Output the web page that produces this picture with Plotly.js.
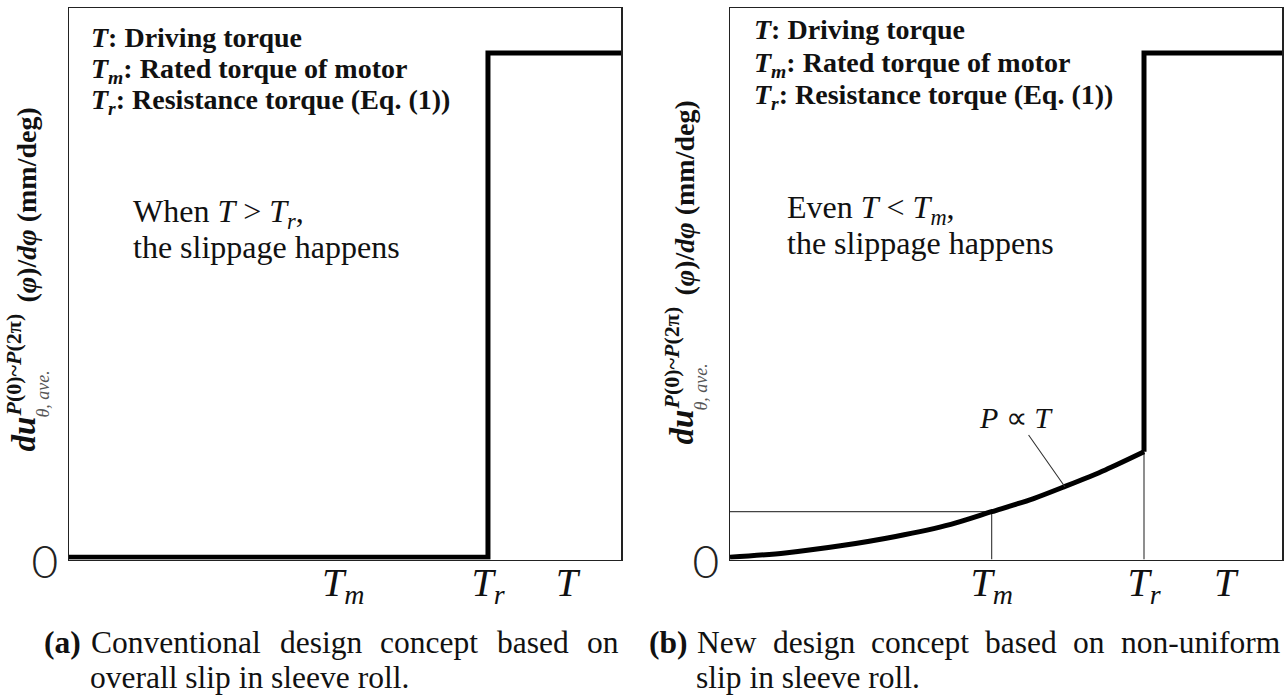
<!DOCTYPE html>
<html>
<head>
<meta charset="utf-8">
<script src="https://cdn.plot.ly/plotly-3.0.1.min.js"></script>
<style>
  html, body { margin: 0; padding: 0; background: #fff; }
  #fig { width: 1287px; height: 695px; }
</style>
</head>
<body>
<div id="fig"></div>
<script>
// ---- data -----------------------------------------------------------
// (a) conventional concept: no slip until T reaches Tr, then full slip
const convT  = [0, 0.759, 0.759, 1.0];
const convDu = [0, 0, 0.918, 0.918];

// (b) new concept: slip grows with T (P ∝ T) up to Tr, then full slip
const newCurveT  = [0, 0.1, 0.2, 0.3, 0.4, 0.474, 0.55, 0.607, 0.68, 0.75];
const newCurveDu = [0, 0.008, 0.021, 0.038, 0.06, 0.083, 0.107, 0.129, 0.159, 0.192];
const newStepT   = [0.75, 0.75, 1.0];
const newStepDu  = [0.192, 0.918, 0.918];

// characteristic torques on each axis
const torqueNamesA = ['<i>T</i><sub><i>m</i></sub>', '<i>T</i><sub><i>r</i></sub>', '<i>T</i>'];
const torqueValsA  = [0.497, 0.759, 0.902];
const torqueNamesB = ['<i>T</i><sub><i>m</i></sub>', '<i>T</i><sub><i>r</i></sub>', '<i>T</i>'];
const torqueValsB  = [0.474, 0.75, 0.897];

// operating point at the rated torque (panel b guide lines)
const ratedT  = 0.474;
const ratedDu = 0.083;
const resistT = 0.75;
const resistDu = 0.192;

// text
const legendLines = [
  '<b><i>T</i>: Driving torque</b>',
  '<b><i>T</i><sub><i>m</i></sub>: Rated torque of motor</b>',
  '<b><i>T</i><sub><i>r</i></sub>: Resistance torque (Eq. (1))</b>'
];
const noteA = ['When <i>T</i> &gt; <i>T</i><sub><i>r</i></sub>,', 'the slippage happens'];
const noteB = ['Even <i>T</i> &lt; <i>T</i><sub><i>m</i></sub>,', 'the slippage happens'];
const curveLabel = '<i>P</i> ∝ <i>T</i>';
const captionLabels = ['(a)', '(b)'];
const captionFirstA = ['Conventional', 'design', 'concept', 'based', 'on'];
const captionSecondA = 'overall slip in sleeve roll.';
const captionFirstB = ['New', 'design', 'concept', 'based', 'on', 'non-uniform'];
const captionSecondB = 'slip in sleeve roll.';

// ---- layout helpers ---------------------------------------------------
const W = 1287, H = 695;
const SERIF = 'Liberation Serif, Times New Roman, serif';
const px = v => v / W;
const py = v => 1 - v / H;

const ctx = document.createElement('canvas').getContext('2d');
function measure(str, size, weight) {
  ctx.font = (weight || 'normal') + ' ' + size + 'px Liberation Serif';
  return ctx.measureText(str).width;
}

// horizontal text, positioned by its left edge and baseline (pixels)
function textAt(text, left, baseline, size) {
  return {
    xref: 'paper', yref: 'paper', x: px(left), y: py(baseline - 0.891 * size),
    xanchor: 'left', yanchor: 'top', showarrow: false, text: text, borderpad: 0,
    font: { family: SERIF, size: size, color: '#111' }
  };
}

// words spread to fill [x0, x1]
function justified(words, x0, x1, baseline, size) {
  const widths = words.map(w => measure(w, size));
  const total = widths.reduce((a, b) => a + b, 0);
  const gap = (x1 - x0 - total) / (words.length - 1);
  let x = x0;
  return words.map((w, i) => {
    const a = textAt(w, x, baseline, size);
    x += widths[i] + gap;
    return a;
  });
}

// vertical text read bottom-to-top, positioned by centre x and bottom y
function upright(text, cx, bottom, size, color) {
  return {
    xref: 'paper', yref: 'paper', x: px(cx), y: py(bottom),
    xanchor: 'center', yanchor: 'bottom', textangle: -90, showarrow: false, borderpad: 0,
    text: text, font: { family: SERIF, size: size, color: color || '#111' }
  };
}

function yTitle(dx, dy) {
  return [
    upright('<b><i>du</i></b>', 23 + dx, 453 + dy, 33),
    upright('<b><i>P</i>(0)~<i>P</i>(2π)</b>', 13 + dx, 418 + dy, 22),
    upright('<i>θ, ave.</i>', 42 + dx, 419 + dy, 18, '#555'),
    upright('<b>(<i>φ</i>)/<i>dφ</i> (mm/deg)</b>', 26 + dx, 304 + dy, 28)
  ];
}

// ---- traces -------------------------------------------------------------
const thick = { color: '#000', width: 5 };
const thin = { color: '#444', width: 1.2 };

const traces = [
  { x: convT, y: convDu, xaxis: 'x', yaxis: 'y', mode: 'lines', line: thick, hoverinfo: 'skip' },
  { x: [0, ratedT], y: [ratedDu, ratedDu], xaxis: 'x2', yaxis: 'y2', mode: 'lines', line: thin, hoverinfo: 'skip' },
  { x: [ratedT, ratedT], y: [ratedDu, -0.004], xaxis: 'x2', yaxis: 'y2', mode: 'lines', line: thin, hoverinfo: 'skip' },
  { x: [resistT, resistT], y: [-0.004, resistDu], xaxis: 'x2', yaxis: 'y2', mode: 'lines', line: thin, hoverinfo: 'skip' },
  { x: newCurveT, y: newCurveDu, xaxis: 'x2', yaxis: 'y2', mode: 'lines', line: Object.assign({ shape: 'spline', smoothing: 0.8 }, thick), hoverinfo: 'skip' },
  { x: newStepT, y: newStepDu, xaxis: 'x2', yaxis: 'y2', mode: 'lines', line: thick, hoverinfo: 'skip' }
];

// ---- axes ---------------------------------------------------------------
const yDomain = [1 - 559.5 / H, 1 - 8 / H];
const xTickFont = { family: SERIF, size: 40, color: '#111', style: 'italic' };
const yTickFont = { family: 'Lato, Noto Sans, sans-serif', size: 46, color: '#222', weight: 300 };

function xAxis(domain, vals, names, anchor) {
  return {
    domain: domain, range: [0, 1], anchor: anchor, fixedrange: true,
    showgrid: false, zeroline: false, showline: true, mirror: true,
    linecolor: '#222', linewidth: 1.5, ticks: '',
    tickmode: 'array', tickvals: vals, ticktext: names, tickfont: xTickFont,
    ticklabelstandoff: -13
  };
}
function yAxis(anchor) {
  return {
    domain: yDomain, range: [-0.004, 1.0], anchor: anchor, fixedrange: true,
    showgrid: false, zeroline: false, showline: true, mirror: true,
    linecolor: '#222', linewidth: 1.5, ticks: '',
    tickmode: 'array', tickvals: [0], ticktext: ['0'], tickfont: yTickFont,
    ticklabelstandoff: 0, ticklabelshift: 5
  };
}

// ---- annotations --------------------------------------------------------
const annotations = [];
// key of symbols
[[46, 77, 108], [38, 71, 103]].forEach((bases, k) => {
  const left = k === 0 ? 90 : 753;
  legendLines.forEach((t, i) => annotations.push(textAt(t, left, bases[i], 28)));
});
// notes
annotations.push(textAt(noteA[0], 132, 220.5, 32));
annotations.push(textAt(noteA[1], 132, 256.5, 32));
annotations.push(textAt(noteB[0], 786, 216.5, 32));
annotations.push(textAt(noteB[1], 786, 252.5, 32));
// curve label with leader
annotations.push({
  xref: 'x2', yref: 'y2', x: 0.607, y: 0.128, axref: 'x2', ayref: 'y2', ax: 0.518, ay: 0.2554,
  text: curveLabel, showarrow: true, arrowhead: 0, arrowwidth: 1.1, arrowcolor: '#333', standoff: 0,
  font: { family: SERIF, size: 30, color: '#111' }
});
// y axis titles
yTitle(0, 0).forEach(a => annotations.push(a));
yTitle(658, -7).forEach(a => annotations.push(a));
// captions
annotations.push(textAt('<b>' + captionLabels[0] + '</b>', 43, 652, 31.5));
justified(captionFirstA, 90.4, 617.5, 652, 31.5).forEach(a => annotations.push(a));
annotations.push(textAt(captionSecondA, 89.4, 687, 31.5));
annotations.push(textAt('<b>' + captionLabels[1] + '</b>', 647.5, 652, 31.5));
justified(captionFirstB, 696, 1279, 652, 31.5).forEach(a => annotations.push(a));
annotations.push(textAt(captionSecondB, 695, 687, 31.5));

const layout = {
  width: W, height: H,
  margin: { l: 0, r: 0, t: 0, b: 0, pad: 0 },
  paper_bgcolor: '#fff', plot_bgcolor: '#fff',
  showlegend: false,
  xaxis: xAxis([69 / W, 621 / W], torqueValsA, torqueNamesA, 'y'),
  yaxis: yAxis('x'),
  xaxis2: xAxis([730 / W, 1282 / W], torqueValsB, torqueNamesB, 'y2'),
  yaxis2: yAxis('x2'),
  annotations: annotations
};

Plotly.newPlot('fig', traces, layout, { staticPlot: true, displayModeBar: false });
</script>
</body>
</html>
